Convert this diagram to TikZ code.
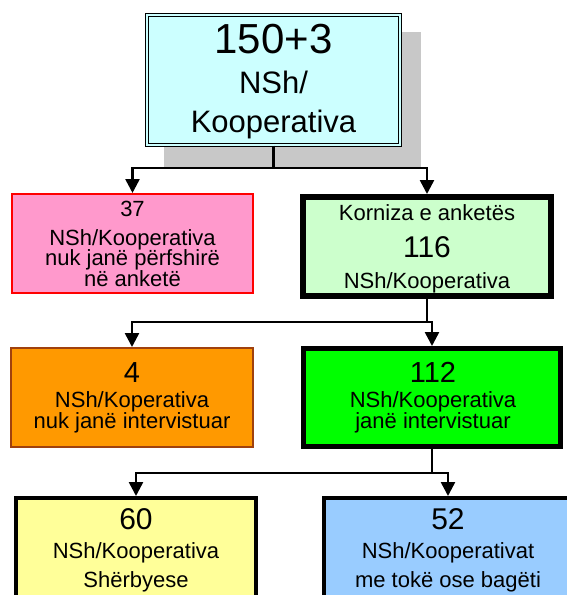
\documentclass[tikz,border=0pt]{standalone}
\usepackage{fontspec}
\setmainfont{Liberation Sans}
\usetikzlibrary{arrows.meta}
\definecolor{topfill}{HTML}{CCFFFF}
\definecolor{shadowgray}{HTML}{C8C8C8}
\definecolor{pinkfill}{HTML}{FF99CC}
\definecolor{kornfill}{HTML}{CCFFCC}
\definecolor{orangefill}{HTML}{FF9900}
\definecolor{orangeborder}{HTML}{A0410D}
\definecolor{greenfill}{HTML}{00FF00}
\definecolor{yellowfill}{HTML}{FFFF99}
\definecolor{bluefill}{HTML}{99CCFF}
\tikzset{
  box/.style={rectangle, inner sep=0pt, draw=black},
  conn/.style={draw=black, line width=2.5pt, -{Triangle[width=14pt,length=14pt]}},
  stem/.style={draw=black, line width=2.5pt},
  txt/.style={anchor=base, inner sep=0pt, font=\fontsize{22}{24}\selectfont},
  big/.style={anchor=base, inner sep=0pt, font=\fontsize{29}{32}\selectfont},
}
\begin{document}
\begin{tikzpicture}[x=1pt,y=-1pt]
\useasboundingbox (0,0) rectangle (566,595);
% shadow of top box
\fill[shadowgray] (164,32) rectangle (421,167);
% boxes
\node[box, fill=topfill, line width=1pt, double=topfill, double distance=2pt, minimum width=253pt, minimum height=130pt] (top) at (273.5,80) {};
\node[box, fill=pinkfill, draw=red, line width=2pt, minimum width=241pt, minimum height=99pt] (pink) at (132.5,243.5) {};
\node[box, fill=kornfill, line width=6pt, minimum width=248pt, minimum height=99pt] (korn) at (427,246.5) {};
\node[box, fill=orangefill, draw=orangeborder, line width=2pt, minimum width=242pt, minimum height=99pt] (orange) at (132,397.5) {};
\node[box, fill=greenfill, line width=5pt, minimum width=257pt, minimum height=98pt] (green) at (432,397.5) {};
\node[box, fill=yellowfill, line width=4pt, minimum width=240pt, minimum height=100pt] (yellow) at (136,548) {};
\node[box, fill=bluefill, line width=4pt, minimum width=248pt, minimum height=100pt] (blue) at (448,548) {};
% texts
\node[txt, font=\fontsize{42}{46}\selectfont] (t1) at (273.5,53) {150+3};
\node[txt, font=\fontsize{31}{34}\selectfont] (t2) at (273.5,93) {NSh/};
\node[txt, font=\fontsize{31}{34}\selectfont] (t3) at (273.5,132) {Kooperativa};
\node[txt] (p1) at (132.5,216) {37};
\node[txt] (p2) at (132.5,245) {NSh/Kooperativa};
\node[txt] (p3) at (132.5,265) {nuk janë përfshirë};
\node[txt] (p4) at (132.5,286) {në anketë};
\node[txt] (k1) at (427,220) {Korniza e anketës};
\node[big, font=\fontsize{30}{33}\selectfont] (k2) at (427,257) {116};
\node[txt] (k3) at (427,288) {NSh/Kooperativa};
\node[big] (o1) at (132,382) {4};
\node[txt] (o2) at (132,407) {NSh/Koperativa};
\node[txt] (o3) at (132,428) {nuk janë intervistuar};
\node[big] (g1) at (433,382) {112};
\node[txt] (g2) at (433,407) {NSh/Kooperativa};
\node[txt] (g3) at (433,428) {janë intervistuar};
\node[big, font=\fontsize{30}{33}\selectfont] (y1) at (136,529) {60};
\node[txt] (y2) at (136,558) {NSh/Kooperativa};
\node[txt] (y3) at (136,587) {Shërbyese};
\node[big, font=\fontsize{30}{33}\selectfont] (b1) at (448,529) {52};
\node[txt] (b2) at (448,558) {NSh/Kooperativat};
\node[txt] (b3) at (448,587) {me tokë ose bagëti};
% connectors
\coordinate (j1) at (273.5,168);
\coordinate (j2) at (427,322);
\coordinate (j3) at (432,473);
\draw[stem] (top.south) -- (j1);
\draw[conn] (j1) -| (pink.north);
\draw[conn] (j1) -| (korn.north);
\draw[stem] (korn.south) -- (j2);
\draw[conn] (j2) -| (orange.north);
\draw[conn] (j2) -| (green.north);
\draw[stem] (green.south) -- (j3);
\draw[conn] (j3) -| (yellow.north);
\draw[conn] (j3) -| (blue.north);
\end{tikzpicture}
\end{document}
